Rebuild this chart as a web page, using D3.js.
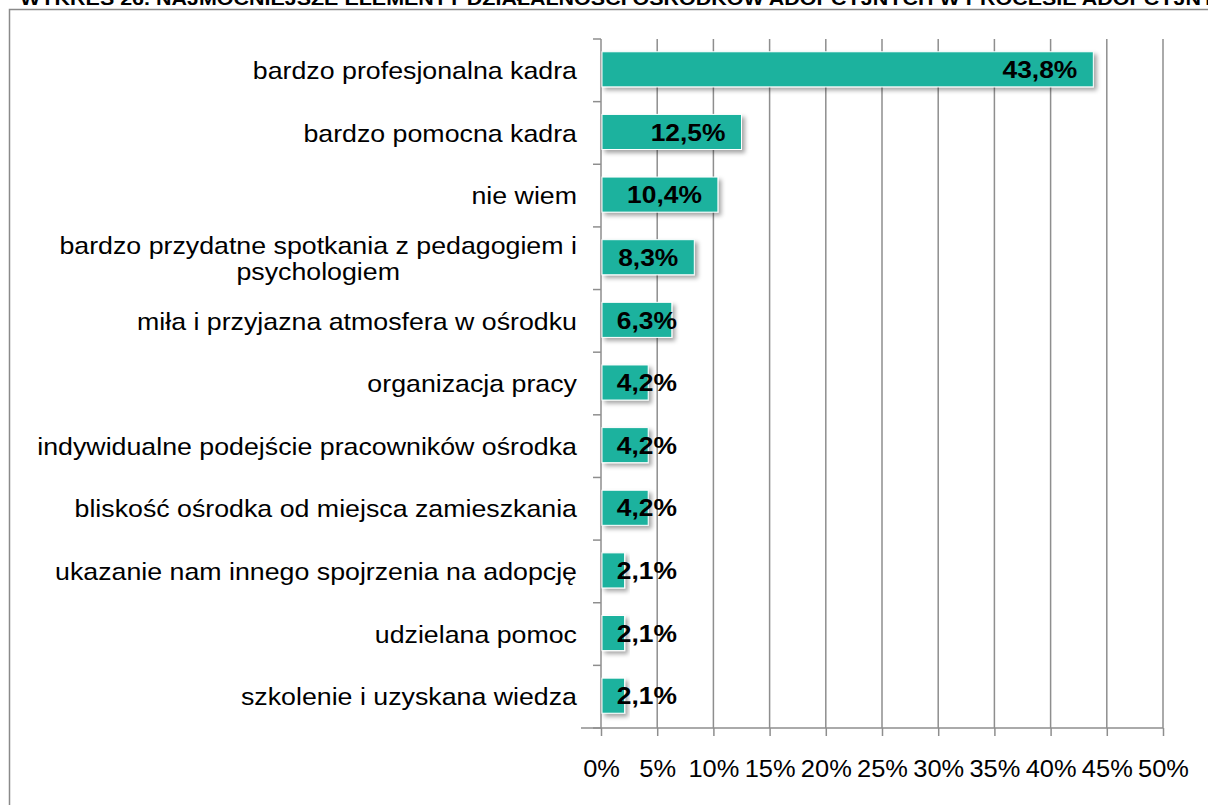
<!DOCTYPE html>
<html>
<head>
<meta charset="utf-8">
<script src="https://cdn.jsdelivr.net/npm/d3@7"></script>
<style>
html,body{margin:0;padding:0;background:#fff;overflow:hidden;}
svg{display:block;font-family:"Liberation Sans",Arial,sans-serif;}
</style>
</head>
<body>
<svg id="chart" width="1208" height="805"></svg>
<script>
const title = "WYKRES 26. NAJMOCNIEJSZE ELEMENTY DZIAŁALNOŚCI OŚRODKÓW ADOPCYJNYCH W PROCESIE ADOPCYJNYM";
const categories = [
  "bardzo profesjonalna kadra",
  "bardzo pomocna kadra",
  "nie wiem",
  "bardzo przydatne spotkania z pedagogiem i|psychologiem",
  "miła i przyjazna atmosfera w ośrodku",
  "organizacja pracy",
  "indywidualne podejście pracowników ośrodka",
  "bliskość ośrodka od miejsca zamieszkania",
  "ukazanie nam innego spojrzenia na adopcję",
  "udzielana pomoc",
  "szkolenie i uzyskana wiedza"
];
const values = [43.8, 12.5, 10.4, 8.3, 6.3, 4.2, 4.2, 4.2, 2.1, 2.1, 2.1];
const xTicks = [0, 5, 10, 15, 20, 25, 30, 35, 40, 45, 50];

(function(){
const svg = d3.select("#chart");
const pL = 601, pR = 1163, pT = 39, pB = 728;
const barColor = "#1BB29E";
const gridColor = "#8E8E8E";
const catStretch = 1.115, valStretch = 1.1, tickStretch = 1.06;

const defs = svg.append("defs");
const f = defs.append("filter").attr("id","sh").attr("x","-10%").attr("y","-30%").attr("width","130%").attr("height","180%");
f.append("feDropShadow").attr("dx",3).attr("dy",3).attr("stdDeviation",2)
  .attr("flood-color","#000").attr("flood-opacity",0.35);

// frame
svg.append("rect").attr("x",9.5).attr("y",9.5).attr("width",1300).attr("height",900)
  .attr("fill","none").attr("stroke","#8a8a8a").attr("stroke-width",1.5);

// title (clipped by the top edge, as in the reference)
svg.append("text").attr("transform","translate(20,5) scale(1.13,1)")
  .attr("font-size",19).attr("font-weight","bold").attr("fill","#000").text(title);

const x = d3.scaleLinear().domain([0,50]).range([pL,pR]);
const y = d3.scaleBand().domain(categories).range([pT,pB]).paddingInner(0.44).paddingOuter(0.22);

// gridlines
svg.append("g").selectAll("line").data(xTicks.slice(1)).join("line")
  .attr("x1",d=>x(d)).attr("x2",d=>x(d)).attr("y1",pT).attr("y2",pB)
  .attr("stroke",gridColor).attr("stroke-width",1.5);

// x axis
const xAxis = svg.append("g").attr("transform",`translate(0,${pB})`)
  .call(d3.axisBottom(x).tickValues(xTicks).tickSize(8).tickPadding(24).tickFormat(d=>d+"%"));
xAxis.select(".domain").attr("stroke",gridColor).attr("stroke-width",1.5).attr("d",`M${pL-20},0H${pR}`);
xAxis.selectAll(".tick line").attr("stroke",gridColor).attr("stroke-width",1.5);
xAxis.selectAll(".tick text").attr("font-size",24).attr("fill","#000")
  .attr("font-family","Liberation Sans, Arial, sans-serif")
  .attr("transform",`scale(${tickStretch},1)`);

// y axis line + ticks at band boundaries
const step = y.step();
const bounds = d3.range(categories.length+1).map(i => pT + i*step);
svg.append("line").attr("x1",pL).attr("x2",pL).attr("y1",pT).attr("y2",pB)
  .attr("stroke",gridColor).attr("stroke-width",1.5);
svg.append("g").selectAll("line").data(bounds).join("line")
  .attr("x1",pL-8).attr("x2",pL).attr("y1",d=>d).attr("y2",d=>d)
  .attr("stroke",gridColor).attr("stroke-width",1.5);

// bars
svg.append("g").selectAll("rect").data(values).join("rect")
  .attr("x",x(0)+1).attr("y",(d,i)=>y(categories[i])-1)
  .attr("width",d=>x(d)-x(0)-1).attr("height",y.bandwidth())
  .attr("fill",barColor).attr("stroke","#fff").attr("stroke-width",1)
  .attr("filter","url(#sh)");

// value labels
svg.append("g").selectAll("text").data(values).join("text")
  .attr("transform",(d,i)=>`translate(${Math.max(x(d)-16, pL+76)},${y(categories[i])-1+y.bandwidth()/2}) scale(${valStretch},1)`)
  .attr("dy","0.36em").attr("text-anchor","end")
  .attr("font-size",24).attr("font-weight","bold").attr("fill","#000")
  .text(d=>String(d.toFixed(1)).replace(".",",")+"%");

// category labels
const cl = svg.append("g").selectAll("text").data(categories).join("text")
  .attr("font-size",24).attr("fill","#000");
cl.each(function(c){
  const lines = c.split("|");
  const t = d3.select(this);
  const cy = y(c)+y.bandwidth()/2;
  if (lines.length===1){
    t.attr("transform",`translate(577,${cy}) scale(${catStretch},1)`)
     .attr("dy","0.36em").attr("text-anchor","end").text(c);
  } else {
    t.attr("text-anchor","middle");
    const tmp = svg.append("text").attr("font-size",24).text(lines[0]);
    const w = tmp.node().getComputedTextLength()*catStretch; tmp.remove();
    const cx = 577 - w/2;
    t.attr("transform",`translate(${cx},${cy}) scale(${catStretch},1)`);
    lines.forEach((ln,k)=>{
      t.append("tspan").attr("x",0).attr("y",(k-(lines.length-1)/2)*26).attr("dy","0.36em").text(ln);
    });
  }
});
})();
</script>
</body>
</html>
